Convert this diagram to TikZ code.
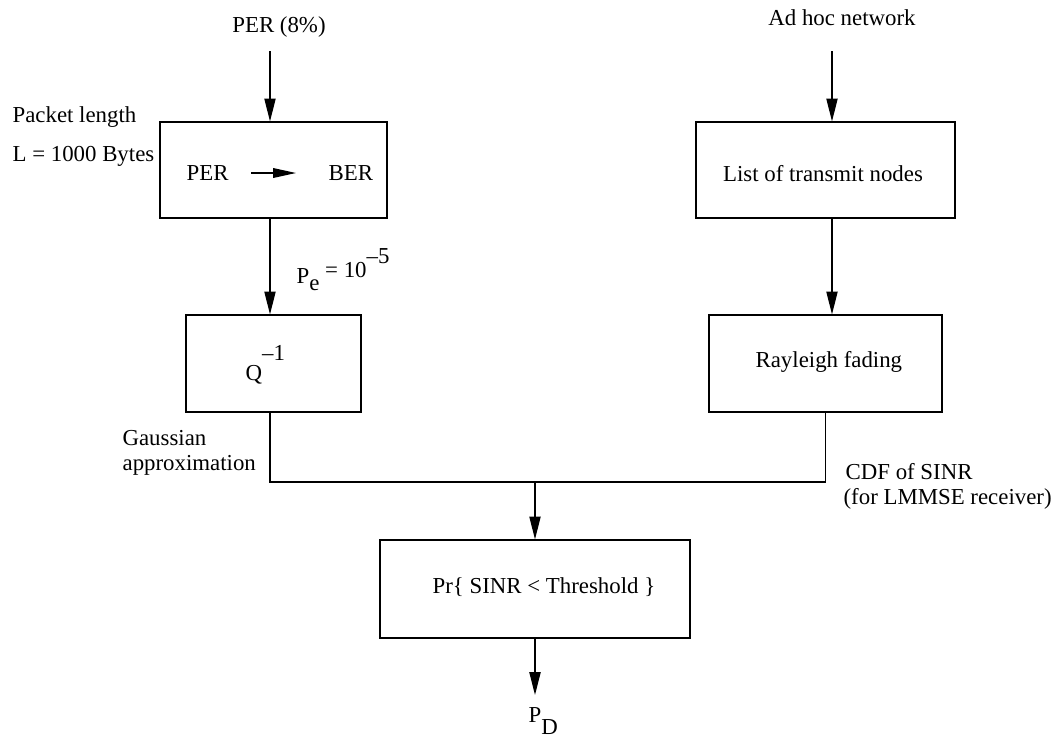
\documentclass[tikz,border=0pt]{standalone}
\usepackage{fontspec}
\setmainfont{Liberation Serif}
\usetikzlibrary{arrows.meta}
\begin{document}
\begin{tikzpicture}[x=0.02cm,y=-0.02cm,
  font=\fontsize{13pt}{15pt}\selectfont,
  line width=0.7pt,
  box/.style={draw,rectangle,inner sep=0pt},
  lbl/.style={anchor=base west,inner sep=0pt},
  arr/.style={-{Triangle[length=13pt,width=6.4pt]}}]
\useasboundingbox (0,0) rectangle (1063,738);
% boxes
\node[box,minimum width=4.54cm,minimum height=1.92cm] (per) at (273.5,170) {};
\node[box,minimum width=3.5cm,minimum height=1.94cm] (q) at (273.5,363.5) {};
\node[box,minimum width=5.18cm,minimum height=1.92cm] (list) at (825.5,170) {};
\node[box,minimum width=4.66cm,minimum height=1.94cm] (ray) at (825.5,363.5) {};
\node[box,minimum width=6.2cm,minimum height=1.96cm] (pr) at (535,589) {};
% texts
\node[anchor=base,inner sep=0pt] (pertop) at (279,32) {PER (8\%)};
\node[anchor=base,inner sep=0pt] (adhoc) at (842,25) {Ad hoc network};
\node[lbl] (pl1) at (12,122) {Packet length};
\node[lbl] (pl2) at (12,161) {L = 1000 Bytes};
\node[lbl] (pin) at (186,180) {PER};
\node[lbl] (bin) at (328,180) {BER};
\coordinate (sa) at (251,173);
\coordinate (sb) at (296,173);
\draw[-{Triangle[length=13pt,width=5.5pt]}] (sa) -- (sb);
\node[lbl] (pe) at (296,283) {P\raisebox{-4pt}{e}\raisebox{3pt}{ = 10}\raisebox{11pt}{–5}};
\node[lbl] (qinv) at (245,380) {Q\raisebox{11pt}{–1}};
\node[lbl] (ga1) at (122,445) {Gaussian};
\node[lbl] (ga2) at (122,470) {approximation};
\node[anchor=base,inner sep=0pt] (lt) at (823,181) {List of transmit nodes};
\node[lbl] (rt) at (755,367) {Rayleigh fading};
\node[lbl] (cdf1) at (845,479) {CDF of SINR};
\node[lbl] (cdf2) at (843,504) {(for LMMSE receiver)};
\node[lbl] (prt) at (432,593) {Pr\{ SINR < Threshold \}};
\node[lbl] (pd) at (528,722) {P\raisebox{-7pt}{D}};
% connectors
\coordinate (t1) at (270,51);
\coordinate (t2) at (832,51);
\coordinate (j) at (535,482);
\coordinate (pdc) at (535,695);
\draw[arr] (t1) -- (t1 |- per.north);
\draw[arr] (t1 |- per.south) -- (t1 |- q.north);
\draw[arr] (t2) -- (t2 |- list.north);
\draw[arr] (t2 |- list.south) -- (t2 |- ray.north);
\draw (t1 |- q.south) -- (t1 |- j) -- (j -| ray.south) -- (ray.south);
\draw[arr] (j) -- (pr.north);
\draw[arr] (pr.south) -- (pdc);
\end{tikzpicture}
\end{document}
